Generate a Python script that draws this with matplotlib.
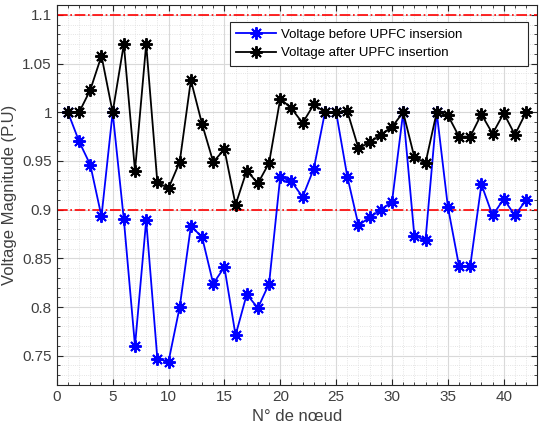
import matplotlib
matplotlib.use("Agg")
import matplotlib.pyplot as plt
from matplotlib.ticker import MultipleLocator

nodes = list(range(1, 43))
v_before = [1.0, 0.970, 0.946, 0.893, 1.0, 0.890, 0.760, 0.889, 0.747, 0.744,
            0.800, 0.883, 0.872, 0.824, 0.841, 0.771, 0.813, 0.799, 0.824, 0.934,
            0.929, 0.913, 0.942, 1.0, 1.0, 0.934, 0.884, 0.892, 0.900, 0.908,
            1.0, 0.873, 0.869, 1.0, 0.903, 0.842, 0.842, 0.926, 0.894, 0.911,
            0.894, 0.910]
v_after = [1.0, 1.0, 1.023, 1.058, 1.0, 1.070, 0.940, 1.070, 0.928, 0.922,
           0.949, 1.033, 0.988, 0.949, 0.962, 0.905, 0.940, 0.927, 0.948, 1.014,
           1.004, 0.989, 1.008, 1.0, 1.0, 1.001, 0.963, 0.969, 0.977, 0.985,
           1.0, 0.954, 0.948, 1.0, 0.997, 0.975, 0.975, 0.998, 0.978, 0.999,
           0.977, 1.0]
limits = [1.1, 0.9]

plt.rcParams['font.family'] = ['Liberation Sans', 'DejaVu Sans']
fig = plt.figure(figsize=(5.46, 4.32), dpi=100)
ax = fig.add_axes([0.104, 0.109, 0.880, 0.879])

for lim in limits:
    ax.axhline(lim, color='#ff0000', linestyle='-.', linewidth=1.2, zorder=2)

ast = (8, 2, 0)
ax.plot(nodes, v_before, color='#0000ff', marker=ast, markersize=9, markeredgewidth=1.4,
        linewidth=1.3, label='Voltage before UPFC insersion', zorder=3)
ax.plot(nodes, v_after, color='black', marker=ast, markersize=9, markeredgewidth=1.4,
        linewidth=1.3, label='Voltage after UPFC insertion', zorder=4)

ax.set_xlim(0, 43)
ax.set_ylim(0.72, 1.11)
ax.xaxis.set_major_locator(MultipleLocator(5))
ax.xaxis.set_minor_locator(MultipleLocator(1))
ax.yaxis.set_major_locator(MultipleLocator(0.05))
ax.yaxis.set_minor_locator(MultipleLocator(0.01))
ax.set_yticks([0.75, 0.8, 0.85, 0.9, 0.95, 1.0, 1.05, 1.1])
ax.set_yticklabels(['0.75', '0.8', '0.85', '0.9', '0.95', '1', '1.05', '1.1'])
ax.grid(which='major', color='#d9d9d9', linewidth=0.8, linestyle='-')
ax.grid(which='minor', color='#dcdcdc', linewidth=0.6, linestyle=':')
ax.set_axisbelow(True)
ax.tick_params(which='both', direction='in', top=True, right=True, colors='#262626',
               labelsize=11, labelcolor='#404040')
ax.tick_params(which='minor', length=2)
ax.tick_params(which='major', length=4)
for s in ax.spines.values():
    s.set_color('#262626')
    s.set_linewidth(0.8)

ax.set_xlabel('N° de nœud', fontsize=12, color='#404040')
ax.set_ylabel('Voltage Magnitude (P.U)', fontsize=12, color='#404040')

leg = ax.legend(loc='upper left', bbox_to_anchor=(0.36, 0.847, 0.62, 0.108),
                mode='expand', borderaxespad=0,
                fontsize=9.5, fancybox=False, edgecolor='#262626', framealpha=1,
                handlelength=3.0, handletextpad=0.35, borderpad=0.5, labelspacing=0.45)
leg.get_frame().set_linewidth(0.8)

fig.savefig('out.png', dpi=100)
